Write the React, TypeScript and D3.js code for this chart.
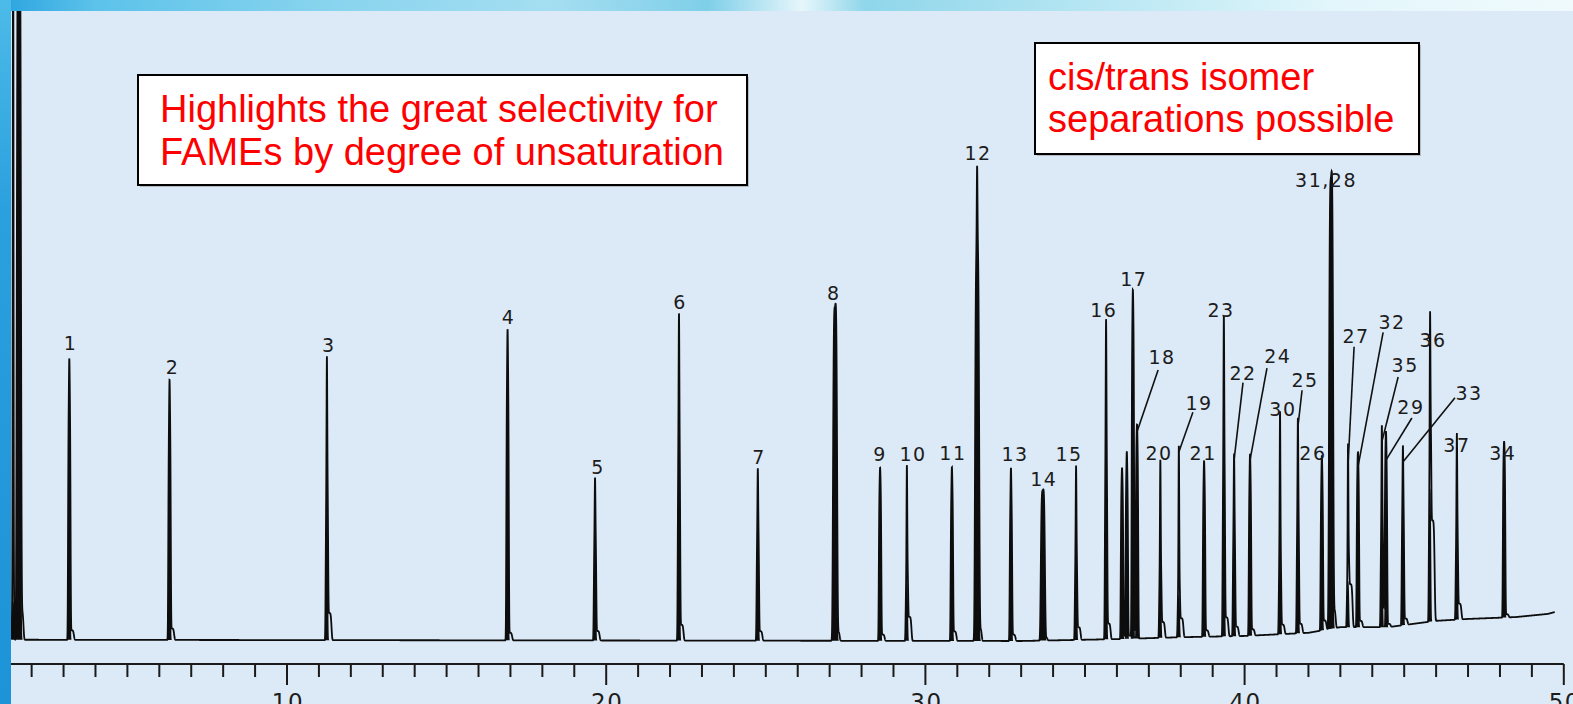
import React, { useMemo } from 'react';
import * as d3 from 'd3';

const W = 1573;
const H = 704;

// ---- peak table (retention time in min, apex height, body height, foot height; % of full scale)
const peakIds = ['s1', 's2', '1', '2', '3', '4', '5', '6', '7', '8', '9', '10', '11', '12', '13', '14', '15', '16', 'a', 'b', '17', '18', '20', '19', '21', '23', '22', '24', '30', '25', '26', '31,28', '27', '32', '35', '29', '33', '36', '37', '34'];
const peakTimes = [1.42, 1.6, 3.18, 6.32, 11.25, 16.91, 19.65, 22.28, 24.75, 27.17, 28.58, 29.42, 30.83, 31.62, 32.68, 33.68, 34.72, 35.66, 36.16, 36.31, 36.5, 36.63, 37.36, 37.94, 38.73, 39.35, 39.67, 40.17, 41.11, 41.67, 42.42, 42.71, 43.24, 43.55, 44.3, 44.43, 44.96, 45.81, 46.65, 48.13];
const peakApex = [120, 120, 44.4, 41.0, 44.3, 49.2, 25.6, 51.6, 27.1, 52.9, 27.3, 27.3, 27.3, 75.1, 27.3, 23.8, 27.3, 50.5, 27.1, 29.5, 55.2, 33.2, 27.8, 30.0, 27.8, 50.5, 28.7, 28.7, 35.1, 34.0, 27.5, 71.3, 27.9, 27.6, 31.6, 28.7, 28.4, 46.2, 29.2, 27.9];
const peakBody = [6, 120, 36.7, 33.2, 21.9, 40.6, 15.6, 29.5, 16.5, 52.9, 24.1, 9.2, 22.9, 61.6, 21.3, 23.8, 12.5, 27.6, 24.0, 25.0, 49.4, 30.0, 9.7, 6.8, 23.5, 25.9, 16.3, 24.0, 12.1, 17.6, 22.9, 71.3, 7.3, 24.3, 14.9, 25.0, 18.1, 21.1, 12.5, 25.6];
const peakFoot = [0, 4.6, 1.5, 1.8, 4.3, 1.2, 1.5, 2.5, 1.5, 1.5, 1.0, 3.8, 1.5, 2.0, 1.0, 0.5, 2.0, 2.5, 0.5, 0.5, 1.0, 0, 2.5, 3.0, 1.0, 3.0, 1.5, 1.0, 1.5, 1.5, 1.5, 3.0, 6.8, 1.0, 3.0, 0.5, 1.0, 16.0, 2.5, 0.5];
const broadPeaks = ['s2', '8', '14', '31,28', '12'];

// baseline drift (time, level)
const baselineTimes = [1.36, 33, 36, 38, 40, 42, 43, 44.5, 46, 47, 48.5, 49.5, 49.72];
const baselineLevels = [0.2, 0, 0.3, 0.6, 0.8, 1.3, 2.2, 2.2, 3.2, 3.5, 3.8, 4.3, 4.6];

// peak labels placed just above their peak (label time, label height)
const labelTexts = ['1', '2', '3', '4', '5', '6', '7', '8', '9', '10', '11', '12', '13', '14', '15', '16', '17', '20', '21', '23', '26', '30', '31,28', '34', '36', '37'];
const labelTimes = [3.19, 6.38, 11.28, 16.91, 19.71, 22.28, 24.76, 27.1, 28.55, 29.58, 30.83, 31.62, 32.78, 33.68, 34.47, 35.56, 36.5, 37.29, 38.67, 39.23, 42.11, 41.17, 42.52, 48.06, 45.87, 46.62];
const labelHeights = [46.2, 42.4, 45.9, 50.3, 26.5, 52.7, 28.1, 54.1, 28.6, 28.6, 28.7, 76.3, 28.6, 24.6, 28.6, 51.4, 56.3, 28.7, 28.7, 51.4, 28.7, 35.7, 72.1, 28.7, 46.7, 30.0];

// labels with leader lines (leader from the named peak's apex to end point)
const leaderTexts = ['18', '19', '22', '24', '25', '27', '32', '35', '29', '33'];
const leaderEndTimes = [37.29, 38.38, 39.95, 40.7, 41.8, 43.43, 44.34, 44.81, 45.24, 46.59];
const leaderEndHeights = [43.0, 36.3, 41.0, 43.3, 39.8, 46.7, 49.0, 41.9, 35.4, 38.6];
const leaderLabelTimes = [37.38, 38.54, 39.92, 41.01, 41.86, 43.46, 44.59, 45.0, 45.18, 47.0];
const leaderLabelHeights = [44.0, 36.7, 41.4, 44.1, 40.3, 47.3, 49.5, 42.7, 36.0, 38.3];

// axis
const minorTicks = d3.range(2, 51);
const majorTicks = [10, 20, 30, 40, 50];

const note1 = ['Highlights the great selectivity for', 'FAMEs by degree of unsaturation'];
const note2 = ['cis/trans isomer', 'separations possible'];

const FONT = '"Liberation Sans", Arial, Helvetica, sans-serif';
const LABEL_FONT = '"DejaVu Sans", "Liberation Sans", sans-serif';

export default function App() {
  const x = d3.scaleLinear().domain([0, 50]).range([-32.2, 1563.8]);
  const y = d3.scaleLinear().domain([0, 100]).range([641, 11]);

  const { tracePath, fillPath } = useMemo(() => {
    const base = d3.scaleLinear().domain(baselineTimes).range(baselineLevels).clamp(true);
    const bodyOnly = (t: number) => {
      let v = 0;
      for (let i = 0; i < peakIds.length; i++) {
        const dt = t - peakTimes[i];
        if (Math.abs(dt) > 0.6) continue;
        const sb = broadPeaks.includes(peakIds[i]) ? 0.07 : 0.042;
        v += peakBody[i] * Math.exp(-Math.pow(Math.abs(dt) / sb, 4));
      }
      return v;
    };
    const signal = (t: number) => {
      let v = base(t) + bodyOnly(t);
      for (let i = 0; i < peakIds.length; i++) {
        const dt = t - peakTimes[i];
        if (Math.abs(dt) > 0.6) continue;
        const spike = (peakApex[i] - peakBody[i]) * Math.exp(-(dt * dt) / (2 * 0.011 * 0.011));
        const fd = dt - 0.08;
        const foot = peakFoot[i] * Math.exp(-Math.pow(Math.abs(fd) / 0.07, 4));
        v += spike + foot;
      }
      return v;
    };
    const ts = d3.range(1.36, 49.72, 0.003);
    const line = d3.line<number>().x((t) => x(t)).y((t) => y(signal(t)));
    const area = d3
      .area<number>()
      .x((t) => x(t))
      .y0((t) => y(base(t)))
      .y1((t) => y(base(t) + bodyOnly(t)));
    return { tracePath: line(ts) || '', fillPath: area(ts) || '' };
  }, []);

  const peakIndex = new Map(peakIds.map((id, i) => [id, i]));
  const axisY = 664;

  return (
    <svg width={W} height={H} style={{ position: 'absolute', left: 0, top: 0, display: 'block' }} fontFamily={FONT}>
      <defs>
        <linearGradient id="topStrip" x1="0" x2="1" y1="0" y2="0">
          <stop offset="0" stopColor="#2aa3df" />
          <stop offset="0.06" stopColor="#5cc2ea" />
          <stop offset="0.2" stopColor="#86d3ee" />
          <stop offset="0.35" stopColor="#a5def1" />
          <stop offset="0.45" stopColor="#7fcfe9" />
          <stop offset="0.51" stopColor="#e6f6fb" />
          <stop offset="0.55" stopColor="#8fd6ea" />
          <stop offset="0.7" stopColor="#b8e7f3" />
          <stop offset="0.85" stopColor="#e3f6fb" />
          <stop offset="1" stopColor="#f0fafd" />
        </linearGradient>
        <linearGradient id="leftStrip" x1="0" x2="0" y1="0" y2="1">
          <stop offset="0" stopColor="#4cbbe8" />
          <stop offset="0.3" stopColor="#2aa0de" />
          <stop offset="1" stopColor="#1d93d8" />
        </linearGradient>
        <clipPath id="plotClip">
          <rect x={11} y={11} width={W - 11} height={H - 11} />
        </clipPath>
      </defs>

      <rect x={0} y={0} width={W} height={H} fill="#dceaf7" />
      <rect x={0} y={0} width={W} height={11} fill="url(#topStrip)" />
      <rect x={0} y={0} width={11} height={H} fill="url(#leftStrip)" />

      <g clipPath="url(#plotClip)">
        <path d={fillPath} fill="#0d0d0d" stroke="none" />
        <path d={tracePath} fill="none" stroke="#0d0d0d" strokeWidth={1.8} strokeLinejoin="miter" />

        {leaderTexts.map((txt, i) => {
          const pi = peakIndex.get(txt)!;
          return (
            <line
              key={'ld' + txt}
              x1={x(peakTimes[pi])}
              y1={y(peakApex[pi])}
              x2={x(leaderEndTimes[i])}
              y2={y(leaderEndHeights[i])}
              stroke="#111"
              strokeWidth={1.6}
            />
          );
        })}

        {labelTexts.map((txt, i) => (
          <text key={'lb' + txt} x={x(labelTimes[i]) + 1} y={y(labelHeights[i])} textAnchor="middle" fontFamily={LABEL_FONT} fontSize={19} letterSpacing={1.5} fill="#1c1c1c">
            {txt}
          </text>
        ))}
        {leaderTexts.map((txt, i) => (
          <text key={'ll' + txt} x={x(leaderLabelTimes[i]) + 1} y={y(leaderLabelHeights[i])} textAnchor="middle" fontFamily={LABEL_FONT} fontSize={19} letterSpacing={1.5} fill="#1c1c1c">
            {txt}
          </text>
        ))}

        {/* axis */}
        <line x1={11} x2={x(50)} y1={axisY} y2={axisY} stroke="#1a1a1a" strokeWidth={2} />
        {minorTicks.map((v) => (
          <line
            key={'t' + v}
            x1={x(v)}
            x2={x(v)}
            y1={axisY}
            y2={majorTicks.includes(v) ? axisY + 21 : axisY + 13}
            stroke="#1a1a1a"
            strokeWidth={2}
          />
        ))}
        {majorTicks.map((v) => (
          <text key={'al' + v} x={x(v) + 1} y={710} textAnchor="middle" fontFamily={LABEL_FONT} fontSize={23} letterSpacing={1.5} fill="#1c1c1c">
            {v}
          </text>
        ))}
      </g>

      {/* annotation boxes */}
      <rect x={140} y={77} width={609} height={110} fill="#9a9a9a" opacity={0.6} />
      <rect x={138} y={75} width={609} height={110} fill="#fff" stroke="#000" strokeWidth={2} />
      {note1.map((s, i) => (
        <text key={'n1' + i} x={160} y={122 + i * 43} fontSize={38} fill="#ff0000">
          {s}
        </text>
      ))}

      <rect x={1037} y={45} width={384} height={111} fill="#9a9a9a" opacity={0.6} />
      <rect x={1035} y={43} width={384} height={111} fill="#fff" stroke="#000" strokeWidth={2} />
      {note2.map((s, i) => (
        <text key={'n2' + i} x={1048} y={90 + i * 42} fontSize={38} fill="#ff0000">
          {s}
        </text>
      ))}
    </svg>
  );
}
